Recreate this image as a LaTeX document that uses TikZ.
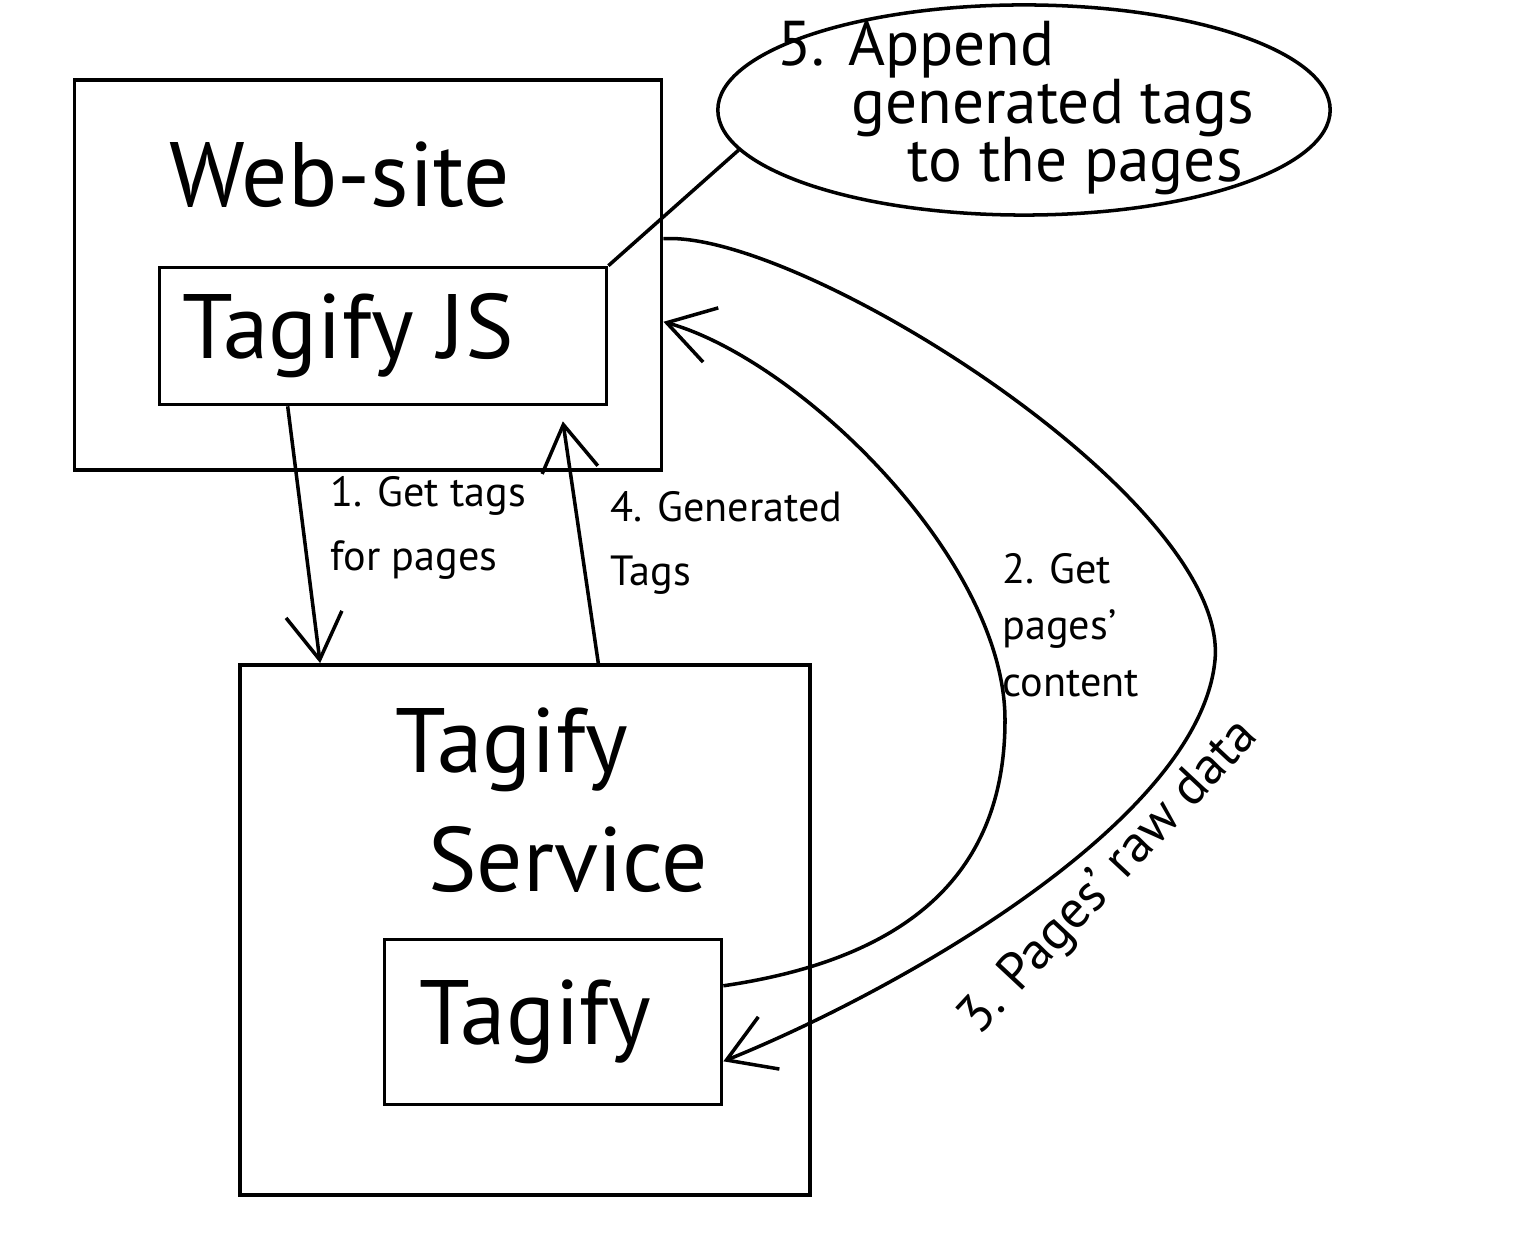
\documentclass[tikz,border=0pt]{standalone}
\usepackage{fontspec}
\setmainfont{PT Sans}
\usetikzlibrary{arrows.meta,shapes.geometric}

\begin{document}
\begin{tikzpicture}[x=0.01cm, y=-0.01cm,
  box/.style={draw, line width=1pt, inner sep=0pt},
  title/.style={font=\fontsize{26}{34}\selectfont, align=center},
  lbl/.style={font=\fontsize{12}{18}\selectfont, align=left},
  flow/.style={line width=1pt, -{Straight Barb[length=13pt,width=16pt]}}]
\useasboundingbox (0,0) rectangle (1536,1240);
% web-site with the JS part
\node[box, minimum width=5.87cm, minimum height=3.9cm] (website) at (368,275) {};
\node[title] (webtitle) at (340,175) {Web-site};
\node[box, title, minimum width=4.47cm, minimum height=1.37cm] (jsbox) at (383,336) {Tagify JS\hspace*{20pt}};
% the service
\node[box, minimum width=5.7cm, minimum height=5.3cm] (service) at (525,930) {};
\node[title] (servtitle) at (540,800) {Tagify\hspace*{16pt}\\\hspace*{16pt}Service};
\node[box, title, minimum width=3.37cm, minimum height=1.65cm] (tagify) at (553,1022) {Tagify\hspace*{10pt}};
% note
\node[draw, line width=1pt, ellipse, minimum width=6.12cm, minimum height=2.1cm] (note) at (1024,110) {};
\node[font=\fontsize{18}{16.5}\selectfont, align=left, anchor=west] (notetext) at (765,108)
  {5. Append\\\hspace*{21pt}generated tags\\\hspace*{37pt}to the pages};
\draw[line width=1pt] (jsbox.north east) -- (note.188);
% requests between site and service
\draw[flow] ([xshift=1.3cm]jsbox.south west) -- ([xshift=0.82cm]service.north west);
\node[lbl, anchor=west] (getlbl) at (318,528) {1. Get tags\\for pages};
\draw[flow] ([xshift=3.6cm]service.north west) -- ([xshift=4.05cm, yshift=-0.15cm]jsbox.south west);
\node[lbl, anchor=west] (genlbl) at (598,543) {4. Generated\\Tags};
% service <-> site pages
\draw[flow] (tagify.12) .. controls (900,960) and (1005,880) .. (1005,720)
  .. controls (1005,560) and (800,360) .. (website.-9);
\node[font=\fontsize{12}{16}\selectfont, align=left, anchor=west] (contlbl) at (990,625) {2. Get\\pages'\\content};
\draw[flow] (website.7) .. controls (800,230) and (1230,500) .. (1215,660)
  .. controls (1200,820) and (900,990) .. (tagify.-13);
\node[font=\fontsize{15}{18}\selectfont, rotate=47] (rawlbl) at (1110,878) {3. Pages' raw data};
\end{tikzpicture}
\end{document}
